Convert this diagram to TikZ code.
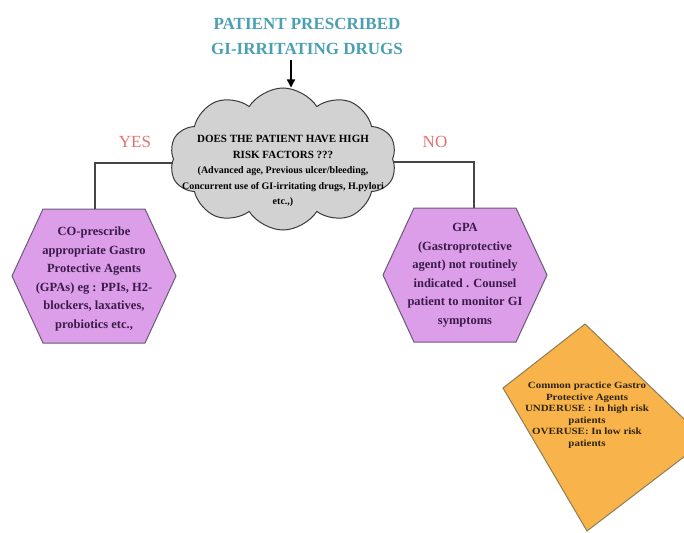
\documentclass[tikz,border=0pt]{standalone}
\usepackage{fontspec}
\setmainfont{Liberation Serif}
\usetikzlibrary{arrows.meta, shapes.symbols, backgrounds}

\definecolor{titleteal}{HTML}{4A9FB2}
\definecolor{answerred}{HTML}{E07272}
\definecolor{cloudgray}{HTML}{D2D2D2}
\definecolor{cloudline}{HTML}{3A3A3A}
\definecolor{hexfill}{HTML}{DC9EE8}
\definecolor{hexline}{HTML}{6A5A78}
\definecolor{hextext}{HTML}{3B1A4A}
\definecolor{practicefill}{HTML}{F8B34A}
\definecolor{practiceline}{HTML}{8C7D55}
\definecolor{practicetext}{HTML}{2E2410}
\definecolor{connector}{HTML}{454545}

\newcommand{\riskhead}[1]{{\fontsize{11}{15.5}\selectfont #1}}

\begin{document}
\begin{tikzpicture}[x=1pt, y=-1pt,
						cloudbox/.style={cloud, cloud puffs=10, cloud puff arc=115, draw=cloudline, fill=cloudgray, line width=1pt, minimum width=227pt, minimum height=142pt, inner sep=0pt},
						hexbox/.style={inner sep=0pt, align=center, text=hextext, font=\bfseries\fontsize{12.5}{18.5}\selectfont},
						hexshape/.style={draw=hexline, fill=hexfill, line width=1pt},
						answer/.style={text=answerred, font=\fontsize{17}{20}\selectfont},
						link/.style={draw=connector, line width=1.3pt},]
		\useasboundingbox (0,0) rectangle (684,532);
		\clip (0,0) rectangle (684,532);

		\node (title) [align=center, text=titleteal, font=\bfseries\fontsize{17}{25}\selectfont] at (307,36) {PATIENT PRESCRIBED\\GI-IRRITATING DRUGS};
		\node (risk) [cloudbox] at (283,159) {};
		\node (risk_text) [align=center, font=\bfseries\fontsize{10}{15.5}\selectfont] at (283,171) {\riskhead{DOES THE PATIENT HAVE HIGH}\\\riskhead{RISK FACTORS ???}\\(Advanced age, Previous ulcer/bleeding,\\Concurrent use of GI-irritating drugs, H.pylori\\etc.,)};
		\node (yes) [answer] at (135,142) {YES};
		\node (no) [answer] at (435,142) {NO};
		\node (gpa_yes) [hexbox] at (94,279) {CO-prescribe\\appropriate Gastro\\Protective Agents\\(GPAs) eg : PPIs, H2-\\blockers, laxatives,\\probiotics etc.,};
		\node (gpa_no) [hexbox] at (465,275) {GPA\\(Gastroprotective\\agent) not routinely\\indicated . Counsel\\patient to monitor GI\\symptoms};
		\node (practice) [align=center, xscale=1.15, text=practicetext, font=\bfseries\fontsize{9.5}{11.5}\selectfont] at (587,415) {Common practice Gastro\\Protective Agents\\UNDERUSE : In high risk\\patients\\OVERUSE: In low risk\\patients};

		% shapes behind the texts
		\begin{scope}[on background layer]
			\foreach \hex/\dy in {gpa_yes/3, gpa_no/0}
				\draw [hexshape] ([xshift=-51pt, yshift=67pt+\dy pt]\hex.center) -- ([xshift=51pt, yshift=67pt+\dy pt]\hex.center) -- ([xshift=82pt, yshift=\dy pt]\hex.center) -- ([xshift=51pt, yshift=-67pt+\dy pt]\hex.center) -- ([xshift=-51pt, yshift=-67pt+\dy pt]\hex.center) -- ([xshift=-82pt, yshift=\dy pt]\hex.center) -- cycle;
			\draw [draw=practiceline, fill=practicefill, line width=1pt] (585,324) -- (503,388) -- (587,531) -- (706,440) -- cycle;
		\end{scope}

		\coordinate (arrow_top) at ([xshift=-16pt, yshift=-2pt]title.south);
		\draw [-{Triangle[length=8pt, width=8pt]}, line width=1.3pt] (arrow_top) -- (arrow_top |- risk.north);
		\draw [link] ([yshift=-4pt]risk.west) -| ([xshift=1pt, yshift=70pt]gpa_yes.center);
		\draw [link] ([yshift=-3pt]risk.east) -| ([xshift=9pt, yshift=67pt]gpa_no.center);
	\end{tikzpicture}
\end{document}
